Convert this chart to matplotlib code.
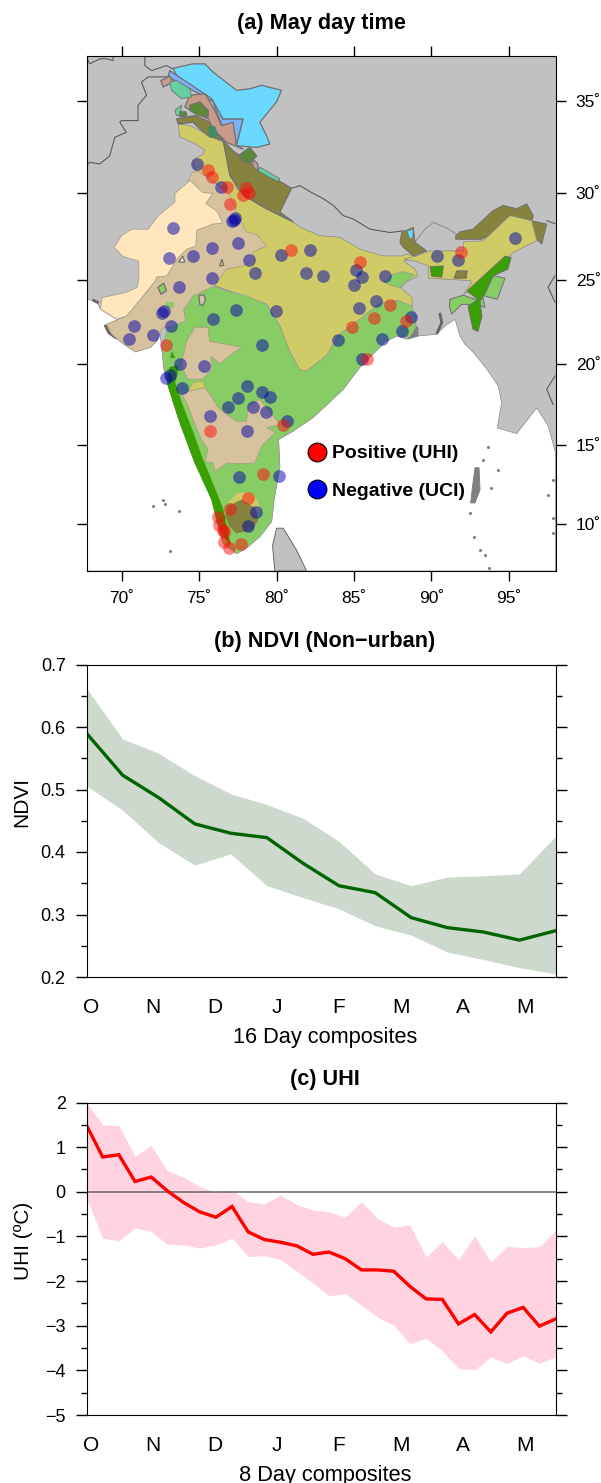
import numpy as np
import matplotlib
matplotlib.use("Agg")
import matplotlib.pyplot as plt
from matplotlib.lines import Line2D

plt.rcParams['font.family'] = ['Liberation Sans', 'DejaVu Sans']
plt.rcParams['axes.unicode_minus'] = True

# ---------- panel a: stations (lon, lat) ----------
neg_stations = [
    (74.87, 31.62), (76.38, 30.33), (77.22, 28.48), (77.09, 28.44), (77.30, 28.57), (73.32, 28.00),
    (73.02, 26.28), (74.63, 26.42), (75.82, 26.86), (77.48, 27.19), (78.19, 26.21), (78.58, 25.44),
    (75.84, 25.15), (73.68, 24.58), (80.30, 26.48), (82.13, 26.77), (81.87, 25.44), (82.97, 25.27),
    (85.11, 25.59), (85.51, 25.19), (85.00, 24.74), (86.40, 23.76), (85.30, 23.36), (79.94, 23.18),
    (77.41, 23.24), (72.57, 23.04), (72.71, 23.18), (87.02, 25.23), (90.38, 26.39), (91.74, 26.16),
    (95.40, 27.46), (70.78, 22.29), (70.47, 21.49), (72.00, 21.77), (73.19, 22.29), (75.90, 22.69),
    (83.98, 21.45), (79.09, 21.14), (86.79, 21.49), (85.53, 20.28), (73.79, 20.00), (75.32, 19.89),
    (73.10, 19.32), (72.84, 19.15), (73.88, 18.51), (78.10, 18.65), (79.07, 18.30), (79.59, 17.99),
    (77.50, 17.91), (76.83, 17.33), (78.49, 17.35), (79.29, 17.04), (75.73, 16.83), (80.67, 16.50),
    (78.06, 15.84), (77.58, 12.96), (80.13, 13.08), (78.68, 10.80), (78.13, 9.89), (88.66, 22.81),
    (88.08, 21.99),
]
pos_stations = [
    (75.56, 31.29), (75.86, 30.89), (76.79, 30.37), (78.02, 30.31), (78.21, 29.98), (77.84, 29.87),
    (76.98, 29.39), (80.90, 26.77), (85.40, 26.09), (91.93, 26.62), (87.32, 23.54), (88.36, 22.57),
    (72.84, 21.17), (84.89, 22.23), (86.29, 22.79), (85.86, 20.28), (80.43, 16.27), (75.69, 15.90),
    (79.11, 13.19), (78.16, 11.66), (76.98, 10.99), (76.21, 10.48), (76.27, 9.94), (76.51, 9.63),
    (76.61, 9.49), (76.59, 8.88), (76.94, 8.50), (77.71, 8.73),
]

# ---------- panel a: outlines (lon, lat) ----------
ocean = [
    (67.7, 23.88), (68.38, 23.76), (68.62, 23.29), (69.68, 22.69), (70.32, 22.89), (69.03, 22.39),
    (69.35, 21.79), (70.13, 21.19), (70.89, 20.73), (71.86, 21.01), (72.26, 21.39), (72.46, 21.91),
    (72.59, 20.90), (72.72, 19.69), (72.95, 19.07), (72.99, 18.66), (73.75, 16.40), (74.72, 13.89),
    (75.90, 11.76), (76.12, 10.27), (76.55, 8.80), (77.41, 8.11), (78.06, 8.48), (78.92, 9.20),
    (79.68, 10.17), (79.84, 11.54), (80.21, 13.65), (80.13, 15.34), (81.07, 15.86), (82.37, 16.71),
    (84.31, 18.45), (85.39, 19.80), (86.68, 21.02), (87.00, 21.32), (87.76, 21.69), (88.40, 21.49),
    (89.13, 21.69), (90.34, 21.79), (90.88, 22.29), (91.53, 22.69), (91.85, 21.69), (92.17, 21.19),
    (92.71, 20.70), (93.58, 19.69), (94.32, 18.65), (94.54, 17.62), (94.26, 16.06), (95.51, 15.71),
    (96.81, 17.31), (97.56, 16.17), (98.02, 14.52), (98.02, 7.0), (67.7, 7.0),
]
sri_lanka = [(79.89, 7.0), (79.74, 8.63), (80.0, 9.74), (80.43, 9.74), (81.29, 8.34), (81.94, 7.0)]
sundarbans = [(88.87, 22.42), (89.13, 22.18), (89.13, 21.69), (88.51, 21.53), (88.51, 21.88)]
andaman = [(92.82, 13.57), (93.08, 13.57), (93.14, 12.18), (92.82, 11.35), (92.54, 11.35), (92.69, 12.62)]
island_specks = [
    (92.5, 10.72), (93.64, 14.88), (93.36, 14.08), (94.29, 13.45), (93.85, 12.28), (92.77, 9.21),
    (93.14, 8.36), (93.46, 8.04), (93.74, 7.22), (71.99, 11.15), (72.65, 11.54), (73.68, 10.81),
    (73.10, 8.31), (72.78, 11.25), (97.86, 12.81), (97.54, 11.86), (97.86, 10.4), (97.86, 9.45),
]

thar = [
    (74.40, 30.71), (75.24, 30.04), (75.88, 29.98), (75.43, 29.41), (76.14, 29.00), (76.53, 28.31),
    (75.88, 28.25), (74.85, 27.90), (74.78, 26.98), (74.20, 26.81), (73.56, 26.23), (72.91, 25.25),
    (72.26, 25.19), (72.18, 24.98), (71.21, 23.88), (70.32, 22.89), (69.68, 22.69), (68.62, 23.29),
    (68.73, 23.98), (70.24, 24.28), (70.99, 24.58), (71.10, 25.08), (71.10, 26.11), (70.06, 26.40),
    (69.50, 26.91), (69.98, 27.58), (70.63, 27.96), (71.70, 27.96), (72.35, 28.73), (73.43, 29.50),
    (73.43, 29.98),
]
scrub_nw = [
    (74.52, 31.14), (74.91, 31.24), (75.88, 30.64), (76.85, 30.09), (77.41, 28.94), (78.06, 27.79),
    (78.71, 27.67), (79.35, 27.00), (78.47, 26.63), (78.60, 26.23), (77.82, 25.84), (76.77, 25.65),
    (76.01, 24.68), (74.59, 24.08), (74.18, 23.48), (74.00, 23.29), (74.12, 22.59), (73.10, 22.21),
    (72.72, 22.21), (72.46, 21.91), (72.26, 21.39), (71.86, 21.01), (70.89, 20.73), (70.13, 21.19),
    (69.35, 21.79), (69.03, 22.39), (70.32, 22.89), (71.21, 23.88), (72.18, 24.98), (73.10, 26.81),
    (74.27, 30.68),
]
gangetic = [
    (73.64, 33.80), (74.40, 33.71), (76.55, 32.82), (76.98, 31.18), (77.41, 30.26), (78.92, 29.31),
    (80.21, 28.73), (81.05, 28.37), (81.51, 28.08), (82.80, 27.58), (84.09, 27.50), (85.38, 26.81),
    (86.89, 26.42), (88.08, 26.42), (88.40, 26.52), (89.13, 26.34), (88.23, 26.11), (88.94, 25.65),
    (89.13, 25.25), (88.29, 24.84), (88.03, 24.54), (88.75, 24.00), (88.75, 23.46), (87.78, 23.82),
    (86.68, 23.64), (85.38, 22.69), (83.96, 21.69), (83.23, 20.50), (81.94, 19.57), (81.51, 19.63),
    (80.86, 20.72), (80.21, 22.29), (79.35, 23.59), (76.01, 24.68), (76.66, 25.65), (77.63, 25.94),
    (76.85, 30.09), (74.72, 31.33), (74.59, 31.84), (75.30, 32.19), (75.37, 32.38), (74.72, 32.74),
    (73.75, 33.10),
]
deciduous = [
    (75.80, 24.68), (76.77, 24.38), (78.06, 24.08), (79.35, 23.59), (80.21, 22.29), (80.86, 20.72),
    (81.51, 19.63), (81.94, 19.57), (83.23, 20.50), (83.96, 21.69), (85.38, 22.69), (86.68, 23.64),
    (87.78, 23.82), (88.73, 23.48), (89.00, 22.87), (89.00, 22.21), (88.62, 21.61), (87.76, 21.69),
    (87.00, 21.32), (86.68, 21.02), (85.39, 19.80), (84.31, 18.45), (82.37, 16.71), (81.07, 15.86),
    (80.13, 15.34), (80.21, 13.65), (79.84, 11.54), (79.68, 10.17), (78.92, 9.20), (78.06, 8.48),
    (77.41, 8.11), (76.55, 8.80), (76.12, 10.27), (75.90, 11.76), (74.72, 13.89), (73.75, 16.40),
    (72.99, 18.66), (72.72, 19.69), (72.59, 20.90), (72.91, 21.99), (74.00, 23.29), (74.18, 23.48),
    (74.59, 24.08),
]
deciduous_lobe = [(86.94, 24.90), (87.45, 25.32), (88.16, 25.51), (88.94, 25.32), (88.29, 24.90), (87.97, 24.54), (87.32, 24.72)]
deccan_upper = [
    (74.18, 21.37), (74.72, 22.21), (75.56, 22.21), (75.69, 21.37), (76.72, 21.19), (77.74, 21.01),
    (76.85, 20.42), (76.33, 20.00), (75.75, 20.48), (75.82, 19.69), (75.24, 19.07), (74.27, 19.07),
    (73.81, 19.88),
]
deccan_lower = [
    (73.86, 18.14), (74.40, 18.34), (75.37, 18.55), (75.90, 17.83), (76.33, 17.21), (77.41, 16.48),
    (78.06, 16.48), (78.16, 17.41), (78.92, 17.83), (80.21, 16.27), (79.37, 16.09), (79.89, 15.78),
    (79.03, 14.92), (78.60, 13.87), (77.41, 13.83), (76.77, 13.87), (76.01, 13.34), (75.90, 13.87),
    (75.37, 13.97), (75.58, 14.71), (75.15, 15.34), (74.72, 16.27), (74.18, 17.64),
]
deccan_patch = [(74.29, 18.34), (74.61, 18.86), (75.26, 18.96), (75.37, 18.55)]
ghats = [
    (73.10, 19.80), (73.54, 19.89), (73.64, 19.58), (73.43, 18.88), (73.86, 17.62), (74.61, 15.77),
    (75.15, 14.29), (76.12, 11.99), (76.55, 10.92), (76.87, 9.42), (76.98, 8.67), (76.33, 9.63),
    (76.01, 10.70), (75.80, 11.54), (74.72, 13.87), (73.75, 16.39), (72.99, 18.66), (72.95, 19.07),
]
ghats_north = [(73.14, 20.37), (73.24, 20.73), (73.43, 20.37)]
nilgiri_plain = [(76.85, 11.35), (77.50, 11.98), (78.38, 11.98), (78.79, 11.43), (78.92, 10.80), (78.27, 11.22)]
nilgiri_hills = [(76.85, 11.12), (77.74, 11.54), (78.60, 11.02), (78.81, 10.27), (78.38, 9.63), (77.41, 9.42), (76.98, 9.85), (76.70, 10.48)]

assam_plain = [
    (88.23, 26.23), (89.05, 26.42), (89.91, 26.71), (92.06, 26.71), (92.06, 27.23), (93.35, 27.29),
    (95.08, 28.73), (96.48, 28.44), (96.81, 27.29), (95.29, 26.62), (93.79, 25.27), (92.06, 24.16),
    (92.61, 24.88), (92.50, 24.98), (89.80, 25.12), (89.80, 25.84), (89.00, 26.11),
]
arunachal = [
    (91.57, 27.57), (91.85, 27.81), (92.69, 27.96), (94.00, 29.02), (94.65, 29.31), (95.51, 29.12),
    (96.16, 29.40), (96.59, 28.73), (96.48, 28.44), (97.45, 28.25), (97.13, 27.10), (96.81, 27.38),
    (95.73, 27.67), (95.08, 28.25), (93.25, 27.38), (91.57, 27.38),
]
sikkim = [(87.97, 27.19), (88.08, 27.77), (88.83, 28.06), (88.94, 27.21), (89.70, 26.71), (88.83, 26.42), (88.18, 26.92)]
sikkim_snow = [(88.42, 27.85), (88.81, 27.96), (88.81, 27.5), (88.62, 27.38)]
ne_forest = [
    (92.30, 24.36), (94.76, 26.40), (95.15, 26.34), (94.95, 25.65), (93.98, 25.25), (93.34, 24.05),
    (93.14, 23.76), (93.27, 22.87), (93.01, 21.97), (92.69, 22.09), (92.37, 23.46), (93.01, 23.88),
]
manipur = [(94.00, 25.27), (94.76, 25.12), (94.26, 23.88), (93.40, 24.08)]
tripura = [
    (91.20, 23.88), (92.06, 24.12), (93.14, 23.78), (93.35, 23.98), (93.46, 23.38), (93.25, 23.48),
    (92.39, 23.58), (91.96, 23.58), (91.31, 22.99), (91.16, 23.48),
]
assam_forest = [(89.91, 25.79), (90.77, 25.84), (90.67, 25.18), (90.02, 25.23)]
assam_hills = [(91.64, 25.55), (92.32, 25.55), (92.24, 25.12), (91.46, 25.12)]

uttarakhand = [
    (76.55, 32.89), (77.19, 32.34), (78.49, 31.53), (79.03, 31.25), (80.97, 30.27), (80.21, 28.93),
    (81.07, 28.38), (79.35, 29.12), (77.84, 29.88), (76.98, 30.98),
]
himachal = [
    (73.54, 34.07), (74.18, 34.17), (74.72, 34.25), (75.48, 33.98), (75.90, 33.62), (76.55, 32.89),
    (75.58, 33.16), (75.04, 33.53), (74.61, 33.89), (73.64, 33.80),
]
ladakh = [
    (73.32, 36.74), (74.61, 36.97), (75.37, 36.97), (75.90, 36.54), (77.41, 35.59), (78.27, 35.67),
    (79.03, 35.85), (80.32, 35.59), (80.00, 34.98), (78.92, 33.89), (79.35, 33.16), (79.57, 32.71),
    (78.71, 32.53), (77.41, 32.62), (77.84, 34.07), (76.55, 34.07), (75.80, 35.16), (73.54, 36.38),
]
ladakh_strip = [
    (73.10, 36.63), (73.54, 36.38), (75.80, 35.27), (76.53, 34.07), (77.84, 34.07), (77.41, 32.62),
    (76.55, 33.53), (75.88, 35.00), (74.40, 35.67), (72.99, 36.29),
]
kashmir_pink_a = [(72.52, 36.10), (73.10, 36.33), (73.32, 36.02), (72.67, 35.76)]
kashmir_pink_b = [
    (74.40, 35.33), (75.37, 35.41), (76.01, 34.53), (76.44, 33.71), (77.19, 33.89), (77.41, 32.62),
    (77.84, 32.44), (76.77, 32.80), (75.90, 33.53), (75.58, 34.07), (74.83, 34.35), (74.07, 34.71),
]
kashmir_pink_c = [(78.47, 31.89), (78.79, 31.62), (78.79, 31.24), (78.47, 31.46)]
teal_a = [(73.10, 36.02), (73.54, 36.10), (74.40, 35.67), (74.51, 35.24), (73.86, 35.15), (73.21, 35.59)]
teal_b = [(73.43, 34.53), (73.86, 34.80), (73.75, 34.25), (73.54, 34.25)]
teal_c = [(78.92, 31.44), (80.21, 30.80), (80.08, 30.64), (78.79, 31.24)]
forest_a = [(74.40, 34.80), (75.04, 34.98), (75.58, 34.53), (75.58, 34.17), (74.93, 34.25), (74.40, 34.53)]
forest_b = [(73.75, 34.45), (74.14, 34.45), (74.20, 34.24), (73.75, 34.18)]
forest_c = [(77.52, 32.07), (78.27, 32.53), (78.71, 32.07), (78.27, 31.62), (77.84, 31.80)]
dark_teal = [(75.58, 33.62), (76.01, 33.67), (76.22, 33.16), (75.69, 33.07)]

enclave_green_a = [(72.33, 24.58), (72.71, 24.84), (72.89, 24.38), (72.54, 24.18)]
enclave_green_b = [(72.82, 23.70), (73.36, 23.70), (73.32, 23.39), (72.97, 23.39)]
enclave_tan = [(74.98, 24.10), (75.30, 24.16), (75.41, 23.88), (75.26, 23.52), (75.04, 23.58)]
enclave_pale = [(73.68, 26.06), (73.94, 26.41), (74.07, 26.06)]
enclave_yellow = [(76.33, 25.83), (76.46, 26.23), (76.59, 25.88)]

borders = [
    [(67.72, 37.33), (67.93, 36.97), (68.58, 37.23), (69.01, 37.23), (69.44, 37.14), (69.44, 37.4)],
    [(71.49, 37.4), (71.49, 36.88), (71.92, 36.62), (72.89, 36.88), (73.30, 36.71)],
    [(72.93, 36.29), (71.70, 36.29), (71.27, 36.02), (71.60, 35.33), (71.05, 34.80), (71.05, 33.98),
     (69.98, 33.98), (69.87, 33.89), (70.30, 33.35), (69.55, 33.08), (69.22, 32.07), (68.58, 31.62),
     (67.93, 31.71), (67.72, 31.53)],
    [(80.97, 30.27), (81.51, 30.42), (82.15, 30.09), (83.01, 29.69), (83.66, 29.31), (84.31, 28.73),
     (84.95, 28.54), (86.03, 27.96), (87.32, 27.77), (88.18, 27.86)],
    [(97.47, 28.44), (97.99, 28.27)],
    [(97.99, 25.27), (97.54, 24.60), (97.99, 23.70)],
    [(97.99, 19.27), (97.45, 18.45), (97.86, 17.52)],
]
bhutan_border = [(88.94, 27.21), (89.59, 27.96), (90.12, 28.34), (90.88, 28.08), (91.64, 27.67)]
coast_marks = [
    [(68.95, 22.29), (69.16, 21.89), (69.59, 21.6)],
    [(68.2, 23.8), (68.42, 23.7)],
    [(90.56, 22.99), (90.67, 22.49), (90.38, 21.89)],
]

map_lon_ticks = [70, 75, 80, 85, 90, 95]
map_lat_ticks = [10, 15, 20, 25, 30, 35]

# ---------- panel b ----------
months = ['O', 'N', 'D', 'J', 'F', 'M', 'A', 'M']
ndvi_x = np.arange(14)
ndvi_mean = [0.590, 0.523, 0.487, 0.445, 0.430, 0.423, 0.382, 0.346, 0.335, 0.295, 0.279, 0.272, 0.259, 0.274]
ndvi_upper = [0.662, 0.581, 0.558, 0.522, 0.493, 0.476, 0.454, 0.417, 0.365, 0.346, 0.360, 0.362, 0.365, 0.425]
ndvi_lower = [0.506, 0.467, 0.415, 0.379, 0.397, 0.346, 0.327, 0.309, 0.282, 0.267, 0.240, 0.228, 0.215, 0.205]
ndvi_month_ticks = [0.12, 1.84, 3.56, 5.28, 7.0, 8.72, 10.44, 12.16]

# ---------- panel c ----------
uhi_x = np.arange(30)
uhi_mean = [1.49, 0.78, 0.83, 0.23, 0.33, 0.02, -0.24, -0.45, -0.57, -0.33, -0.90, -1.07, -1.13, -1.21, -1.40,
            -1.35, -1.50, -1.75, -1.75, -1.78, -2.12, -2.40, -2.41, -2.96, -2.75, -3.14, -2.72, -2.59, -3.01, -2.85]
uhi_upper = [2.0, 1.5, 1.49, 0.79, 1.04, 0.47, 0.33, 0.12, -0.01, 0.04, -0.22, -0.27, -0.07, -0.28, -0.41,
             -0.45, -0.57, -0.22, -0.60, -0.79, -0.74, -1.46, -1.12, -1.52, -0.99, -1.57, -1.22, -1.25, -1.23, -0.87]
uhi_lower = [-0.14, -1.04, -1.10, -0.81, -0.89, -1.18, -1.19, -1.26, -1.19, -1.04, -1.45, -1.43, -1.52, -1.78, -2.04,
             -2.33, -2.28, -2.54, -2.81, -2.99, -3.40, -3.28, -3.56, -3.96, -3.99, -3.70, -3.85, -3.67, -3.84, -3.70]
uhi_month_ticks = [0.26, 4.10, 7.94, 11.78, 15.62, 19.46, 23.30, 27.13]

W, H = 601, 1483
fig = plt.figure(figsize=(W / 100, H / 100), dpi=100)


def panel(left, right, top, bottom):
    # pixel box -> figure fraction
    return fig.add_axes([left / W, 1 - bottom / H, (right - left) / W, (bottom - top) / H])


def merc(lat):
    return np.log(np.tan(np.pi / 4 + np.radians(np.clip(lat, -85, 85)) / 2))


def imerc(y):
    return np.degrees(2 * np.arctan(np.exp(y)) - np.pi / 2)


def region(ax, pts, color, edge='#8a8a8a', lw=0.7, z=3):
    xs, ys = zip(*pts)
    ax.fill(xs, ys, facecolor=color, edgecolor=edge, linewidth=lw, zorder=z)


GRAY = '#c1c1c1'
CREAM = '#ffe6bd'
TAN = '#d7c29e'
LGREEN = '#88cc66'
YELLOW = '#cfcb67'
OLIVE = '#86833f'
GREEN = '#38a000'
CYAN = '#6bd9ff'
BLUE = '#7cb0f5'
PINK = '#c99a8a'
TEAL = '#66cfa0'
FOREST = '#5a8a3a'
DTEAL = '#3f8a6a'
HIM = '#707070'

# ---------- (a) map ----------
ax = panel(86.5, 555.5, 55.5, 571)
ax.set_facecolor(GRAY)
ax.set_yscale('function', functions=(merc, imerc))
ax.set_xlim(67.72, 98.02)
ax.set_ylim(7.0, 37.4)

region(ax, ocean, 'white', edge='#8a8a8a', lw=0.5, z=1)
region(ax, sri_lanka, GRAY, edge='#666666', lw=0.7, z=2)
region(ax, sundarbans, '#808080', edge='#808080', z=2)
region(ax, andaman, '#808080', edge='#808080', z=2)
sx, sy = zip(*island_specks)
ax.scatter(sx, sy, s=5, color='#808080', linewidths=0, zorder=2)

for line in borders:
    xs, ys = zip(*line)
    ax.plot(xs, ys, color='#555555', lw=0.75, zorder=2)
xs, ys = zip(*bhutan_border)
ax.plot(xs, ys, color='#8a8a8a', lw=0.7, zorder=2)
for line in coast_marks:
    xs, ys = zip(*line)
    ax.plot(xs, ys, color='#666666', lw=2, zorder=2)

region(ax, gangetic, YELLOW, lw=0.5)
region(ax, deciduous, LGREEN, edge='#9a9a9a', lw=0.5)
region(ax, deciduous_lobe, LGREEN, edge='#9a9a9a', lw=0.5)
region(ax, scrub_nw, TAN, edge='#a89a80', lw=0.5)
region(ax, thar, CREAM, edge='#a8a090', lw=0.6)
region(ax, deccan_upper, TAN, edge='#a89a80', lw=0.5)
region(ax, deccan_lower, TAN, edge='#a89a80', lw=0.5)
region(ax, deccan_patch, YELLOW, edge='#a89a80', lw=0.4)
region(ax, ghats, GREEN, edge=GREEN, lw=0.4)
region(ax, ghats_north, GREEN, edge=GREEN, lw=0.4)
region(ax, nilgiri_plain, YELLOW, edge=YELLOW, lw=0.4)
region(ax, nilgiri_hills, OLIVE, edge=OLIVE, lw=0.4)

region(ax, arunachal, OLIVE, edge=HIM)
region(ax, sikkim, OLIVE, edge=HIM)
region(ax, sikkim_snow, CYAN, edge=HIM, lw=0.4)
region(ax, assam_plain, YELLOW, lw=0.5)
region(ax, manipur, LGREEN, edge=HIM)
region(ax, tripura, LGREEN, edge=HIM)
region(ax, ne_forest, GREEN, edge=HIM)
region(ax, assam_forest, GREEN, edge=HIM)
region(ax, assam_hills, OLIVE, edge=HIM)

region(ax, ladakh_strip, BLUE, edge=HIM, lw=0.9)
region(ax, ladakh, CYAN, edge=HIM, lw=0.9)
region(ax, himachal, OLIVE, edge=HIM, lw=0.9)
region(ax, uttarakhand, OLIVE, edge=HIM, lw=0.9)
for part in (kashmir_pink_a, kashmir_pink_b, kashmir_pink_c):
    region(ax, part, PINK, edge=HIM, lw=0.9)
for part in (teal_a, teal_b, teal_c):
    region(ax, part, TEAL, edge=HIM, lw=0.6)
for part in (forest_a, forest_b, forest_c):
    region(ax, part, FOREST, edge=HIM, lw=0.9)
region(ax, dark_teal, DTEAL, edge=DTEAL, lw=0.5)

region(ax, enclave_green_a, LGREEN, edge=HIM, lw=0.9)
region(ax, enclave_green_b, LGREEN, edge=LGREEN, lw=0.3)
region(ax, enclave_tan, TAN, edge=HIM, lw=0.9)
region(ax, enclave_pale, '#f4ecd8', edge=HIM, lw=0.9)
region(ax, enclave_yellow, YELLOW, edge=HIM, lw=0.9)

bx, by = zip(*neg_stations)
rx, ry = zip(*pos_stations)
ax.scatter(bx, by, s=84, color='#0000aa', alpha=0.5, linewidths=0, zorder=10)
ax.scatter(rx, ry, s=84, color='#ff0a0a', alpha=0.5, linewidths=0, zorder=10)

ax.set_xticks(map_lon_ticks)
ax.set_xticklabels([f'{v}\u02da' for v in map_lon_ticks])
ax.set_yticks(map_lat_ticks)
ax.set_yticklabels([f'{v}\u02da' for v in map_lat_ticks])
ax.yaxis.set_minor_locator(plt.NullLocator())
ax.yaxis.set_minor_formatter(plt.NullFormatter())
ax.tick_params(axis='both', which='major', direction='out', length=7.5, width=1, labelsize=12.5,
               top=True, bottom=True, left=True, right=True,
               labelleft=False, labelright=True, pad=7)
ax.set_title('(a) May day time', fontsize=15.6, fontweight='bold', pad=19)

handles = [Line2D([], [], linestyle='none', marker='o', ms=13.5, mfc='#ff0000', mec='black', mew=0.8),
           Line2D([], [], linestyle='none', marker='o', ms=13.5, mfc='#0000ff', mec='black', mew=0.8)]
leg = ax.legend(handles, ['Positive (UHI)', 'Negative (UCI)'], loc='upper left', bbox_to_anchor=(0.47, 0.245),
                frameon=False, prop={'weight': 'bold', 'size': 14}, handlelength=1.0, handletextpad=0.3,
                labelspacing=1.02, borderpad=0, borderaxespad=0)
leg.set_zorder(20)

# ---------- (b) NDVI ----------
ax1 = panel(86.5, 555.5, 664.5, 977)
ax1.fill_between(ndvi_x, ndvi_lower, ndvi_upper, color='#ccd9cc', linewidth=0)
ax1.plot(ndvi_x, ndvi_mean, color='#006400', lw=2.4, solid_joinstyle='miter')
ax1.set_xlim(0, 13)
ax1.set_ylim(0.2, 0.7)
ax1.set_yticks([0.2, 0.3, 0.4, 0.5, 0.6, 0.7])
ax1.set_yticks([0.25, 0.35, 0.45, 0.55, 0.65], minor=True)
ax1.set_xticks(ndvi_month_ticks)
ax1.set_xticklabels(months)
ax1.set_ylabel('NDVI', fontsize=15)
ax1.yaxis.set_label_coords(-0.118, 0.56)
ax1.set_xlabel('16 Day composites', fontsize=15.7, x=0.508, labelpad=7)
ax1.set_title('(b) NDVI (Non\u2212urban)', fontsize=15.6, fontweight='bold', x=0.508, pad=12.5)

# ---------- (c) UHI ----------
ax2 = panel(86.5, 555.5, 1102.5, 1415)
ax2.fill_between(uhi_x, uhi_lower, uhi_upper, color='#ffd3e0', linewidth=0)
ax2.axhline(0, color='#666666', lw=1.1)
ax2.plot(uhi_x, uhi_mean, color='#ff0000', lw=2.4, solid_joinstyle='miter')
ax2.set_xlim(0, 29)
ax2.set_ylim(-5, 2)
ax2.set_yticks(np.arange(-5, 3))
ax2.set_yticks(np.arange(-4.5, 2, 1), minor=True)
ax2.set_xticks(uhi_month_ticks)
ax2.set_xticklabels(months)
ax2.set_ylabel('UHI (\u00baC)', fontsize=15)
ax2.yaxis.set_label_coords(-0.114, 0.557)
ax2.set_xlabel('8 Day composites', fontsize=15.7, x=0.508, labelpad=7)
ax2.set_title('(c) UHI', fontsize=15.6, fontweight='bold', x=0.508, pad=12.5)

for a in (ax1, ax2):
    a.tick_params(axis='y', which='major', direction='out', length=8, width=1, labelsize=13,
                  left=True, right=True, pad=7)
    a.tick_params(axis='y', which='minor', direction='out', length=4.5, width=1, left=True, right=True)
    a.tick_params(axis='x', which='major', length=0, labelsize=15, pad=15)

fig.savefig('out.png', dpi=100)
